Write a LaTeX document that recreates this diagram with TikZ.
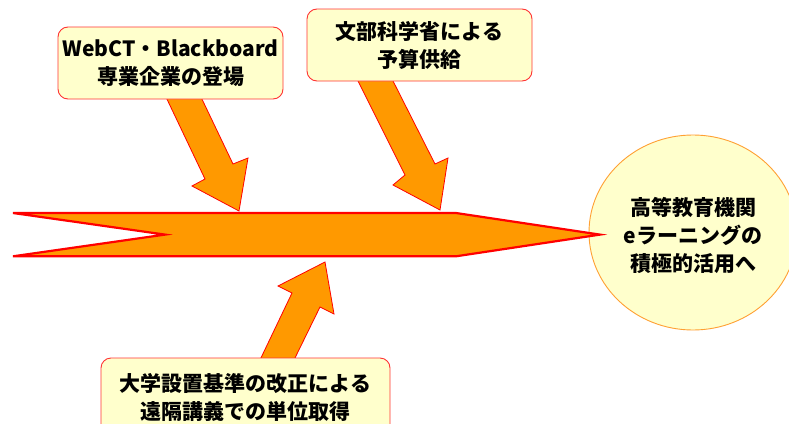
\documentclass[tikz,border=0pt]{standalone}
\usepackage{fontspec}
\usetikzlibrary{shapes.geometric}
\setmainfont{Noto Sans CJK JP}
\definecolor{arrOrange}{HTML}{FF9900}
\definecolor{boxFill}{HTML}{FFFFCC}
\definecolor{boxLine}{HTML}{FF3333}
\definecolor{circLine}{HTML}{FFA033}
\tikzset{
  txt/.style={align=center, font=\fontsize{21}{28}\selectfont\bfseries, inner sep=0pt},
  infobox/.style={txt, draw=boxLine, line width=0.9pt, fill=boxFill, rounded corners=10pt},
  blockarrow/.style={fill=arrOrange, draw=red, line width=0.8pt, line join=miter},
  mainarrow/.style={fill=arrOrange, draw=red, line width=2.2pt, line join=miter},
}
\begin{document}
\begin{tikzpicture}[x=1pt, y=-1pt]
\clip (0,0) rectangle (789,423);
\fill[white] (0,0) rectangle (789,423);
% goal ellipse
\node[ellipse, draw=circLine, line width=0.9pt, fill=boxFill, minimum width=208pt, minimum height=195pt, inner sep=0pt] (goal) at (693,232.5) {};
\node[txt] (goaltxt) at (693,235) {高等教育機関\\eラーニングの\\積極的活用へ};
% main arrow
\draw[mainarrow] (13,213) -- (456,213) -- (600,234.6) -- (456,256.3) -- (13,256.3) -- (165,234.6) -- cycle;
% small block arrows
\draw[blockarrow] (165,95) -- (205,179) -- (192,186) -- (239,211) -- (248,158) -- (233,164) -- (200,95) -- cycle;
\draw[blockarrow] (356,77) -- (405,175) -- (393,185) -- (440,210) -- (448,158) -- (435,164) -- (391,77) -- cycle;
\draw[blockarrow] (259,362) -- (292,293) -- (278,286) -- (325,262) -- (334,314) -- (320,307) -- (293,362) -- cycle;
% boxes
\node[infobox, minimum width=225pt, minimum height=72pt] (webct) at (170.5,63) {WebCT・Blackboard\\専業企業の登場};
\node[infobox, minimum width=225pt, minimum height=72pt] (mext) at (419.5,45) {文部科学省による\\予算供給};
\node[infobox, minimum width=289pt, minimum height=79pt] (std) at (245.5,397.5) {大学設置基準の改正による\\遠隔講義での単位取得};
\end{tikzpicture}
\end{document}
